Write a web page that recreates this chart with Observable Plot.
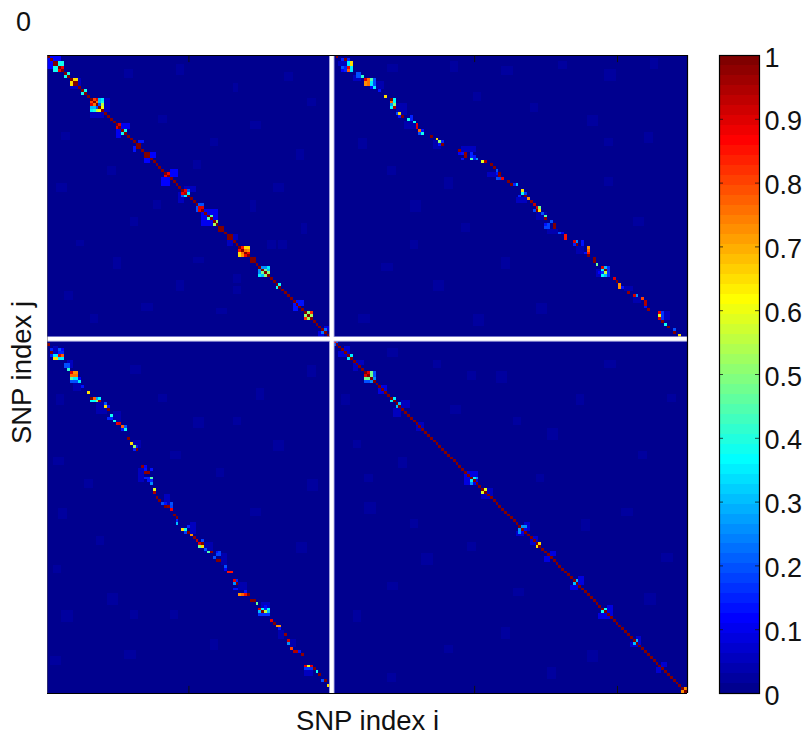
<!DOCTYPE html>
<html>
<head>
<meta charset="utf-8">
<script src="https://cdn.jsdelivr.net/npm/d3@7"></script>
<script src="https://cdn.jsdelivr.net/npm/@observablehq/plot@0.6"></script>
<style>
html,body{margin:0;padding:0;background:#fff;}
#wrap{position:relative;width:807px;height:736px;overflow:hidden;font-family:"Liberation Sans",Arial,sans-serif;}
#wrap svg{position:absolute;top:0;background:transparent;}
#corner{position:absolute;left:16px;top:7px;font-size:27px;line-height:30px;color:#111;}
</style>
</head>
<body>
<div id="wrap"><div id="corner">0</div></div>
<script>
const snpCount = 224;
const gapIndex = 100;
const xTicks = [50, 100, 150, 200];
const barTicks = [0, 0.1, 0.2, 0.3, 0.4, 0.5, 0.6, 0.7, 0.8, 0.9, 1];
const xTitle = "SNP index i";
const yTitle = "SNP index j";

// runs of the main diagonal that read as r2 = 1
const diagonalRuns = [[1, 99], [101, 224]];

// square LD blocks on the diagonal: [first index, rows]
const ldBlocks = [
  [3, [[1,1,.38,.38],[1,1,.38,.38],[.38,.38,1,.88],[.38,.38,.88,1]]],
  [7, [[1,.38],[.38,1]]],
  [9, [[1,.65,.65],[.65,1,1],[.65,1,1]]],
  [13, [[1,.38],[.38,1]]],
  [16, [[1,.8,.9,.3,.35],[.8,1,.75,.3,.4],[.9,.75,1,.2,.55],[.3,.3,.2,1,.6],[.35,.4,.55,.6,1]]],
  [25, [[1,.9],[.9,1]]],
  [27, [[1,.38],[.38,1]]],
  [32, [[1,1],[1,1]]],
  [35, [[1,1],[1,1]]],
  [42, [[1,.88],[.88,1]]],
  [48, [[1,.88,.2],[.88,.95,.35],[.2,.35,1]]],
  [53, [[1,.2,.2],[.2,.9,.9],[.2,.9,1]]],
  [57, [[1,.45],[.45,1]]],
  [59, [[1,.52],[.52,1]]],
  [61, [[1,1],[1,1]]],
  [64, [[1,1],[1,1]]],
  [68, [[1,.85,.65,.65],[.85,1,.75,.72],[.65,.75,1,.88],[.65,.72,.88,1]]],
  [72, [[1,1],[1,1]]],
  [75, [[1,.25,.25,.35],[.25,1,.48,.3],[.25,.48,1,.5],[.35,.3,.5,1]]],
  [81, [[1,.38],[.38,1]]],
  [91, [[1,.5,.82],[.5,1,.52],[.82,.52,1]]],
  [97, [[1,.22],[.22,1]]],
  [101, [[.85,.2],[.2,1]]],
  [106, [[1,.35],[.35,1]]],
  [112, [[1,.9,.47,.2],[.9,1,.47,.2],[.47,.47,1,.25],[.2,.2,.25,1]]],
  [121, [[1,.35],[.35,1]]],
  [123, [[1,.3],[.3,1]]],
  [149, [[1,.35,.25],[.35,1,.1],[.25,.1,1]]],
  [153, [[1,.58],[.58,1]]],
  [166, [[1,.25,.25],[.25,1,.1],[.25,.1,1]]],
  [172, [[1,.65],[.65,1]]],
  [185, [[1,.3],[.3,1]]],
  [195, [[1,.38],[.38,1]]],
  [206, [[1,.3],[.3,1]]],
  [223, [[1,.72],[.72,1]]]
];

// the cross-chromosome ridge: [i, j, r2]
const ridgeCells = [
  [102,1,.98],[105,2,1],[104,2,.15],[106,2,.15],
  [106,3,.35],[107,3,.65],[106,4,.35],[107,4,.65],
  [104,5,.2],[105,5,.15],[106,5,.88],[107,5,.35],
  [104,6,.12],[105,6,.15],[106,6,.78],[107,6,.35],
  [109,7,.2],[110,7,.2],[110,8,.2],[109,8,.2],[111,8,.42],
  [112,9,.9],[113,9,.75],[114,9,.45],[115,9,.2],
  [112,10,.72],[113,10,.75],[114,10,.35],[115,10,.2],
  [112,11,.72],[113,11,.75],[114,11,.35],[115,11,.2],
  [114,12,.12],[115,12,.35],[117,13,.13],[119,15,.65],
  [121,16,1],[122,16,.36],[121,17,.78],[122,17,.36],
  [121,18,.28],[122,18,.5],[121,19,.36],[122,19,.95],
  [123,21,.2],[124,21,.65],[124,22,.13],[125,22,1],
  [127,23,.38],[128,22,.15],[128,23,.15],[129,24,.38],
  [130,25,.88],[130,26,.9],[131,27,.78],[132,27,.13],[131,28,.2],[132,28,.38],
  [135,29,1],[137,30,.65],[138,31,.5],[139,31,.15],[138,32,.13],[139,32,1],
  [145,34,.98],[145,35,.12],[146,35,.13],[147,35,.98],[147,36,.98],[149,35,.15],[149,36,.15],
  [146,37,.13],[149,37,.45],[150,37,.15],[151,37,.25],[150,36,.13],
  [153,38,.58],[154,38,.95],[156,39,1],[157,40,1],[158,41,.2],[158,42,.13],
  [159,42,1],[159,43,.97],[158,44,.2],[159,44,.18],[160,44,.88],[162,45,1],[163,46,1],
  [164,46,.15],[165,46,.3],[167,48,.65],[167,49,.38],[168,49,.18],
  [166,50,.15],[168,50,1],[169,51,.72],[170,52,.97],[171,53,.93],
  [172,54,.9],[173,54,.47],[171,55,.18],[172,55,1],[173,55,.65],
  [174,56,.2],[175,57,.45],[175,58,.97],[177,59,.2],
  [175,60,.13],[176,60,.18],[178,60,1],[175,61,.18],[176,61,.18],[178,61,1],
  [180,63,.2],[181,63,.12],[182,64,.85],[182,65,.85],
  [185,66,.9],[186,66,.25],[185,67,.15],[186,67,1],[188,66,.13],[188,67,.13],
  [190,68,.72],[190,69,.78],[189,70,.14],[190,70,.85],[190,71,1],
  [192,72,1],[192,73,1],[193,74,.47],
  [195,75,.9],[196,75,.3],[197,75,.17],[195,76,.36],[196,76,1],[197,76,.17],
  [194,77,.12],[195,77,.17],[196,77,.55],[197,77,.17],[195,78,.36],[196,78,.3],[197,78,.17],
  [199,79,.9],[200,80,1],[201,81,.72],[201,82,.72],[202,82,.14],
  [204,84,.97],[206,85,.92],[207,85,.25],[209,86,.8],[210,87,.95],[210,88,.95],[210,89,.14],[211,90,.97],
  [215,91,.88],[216,91,.16],[215,92,.58],[216,92,.16],[215,93,.9],[216,93,.16],
  [216,94,1],[217,95,.38],[218,96,1],[220,97,.2],[220,98,1],[222,99,.65]
];

// soft clouds around the hot cells: [i1, i2, j1, j2, r2]
const clouds = [
  [2,5,1,2,.11],[11,12,9,11,.06],[21,22,16,20,.05],[27,29,25,26,.1],[33,34,31,31,.13],[37,38,35,36,.12],
  [44,46,41,43,.11],[49,52,47,48,.06],[56,60,55,58,.1],[66,67,64,65,.06],[88,90,87,88,.14],[98,99,96,97,.09],
  [103,105,3,4,.06],[108,110,8,9,.05],[116,118,10,12,.04],[123,126,18,21,.04],[126,129,24,26,.04],
  [136,138,31,33,.04],[146,150,33,34,.06],[155,158,42,43,.05],[165,168,51,52,.05],[172,175,56,58,.04],
  [176,179,62,63,.04],[186,188,68,70,.04],[193,194,76,78,.05],[203,205,82,83,.04],[206,208,86,87,.04],[216,218,91,93,.05],
  [103,105,105,106,.07],[109,111,108,109,.05],[118,119,117,118,.08],[125,127,122,124,.06],[131,132,130,131,.05],
  [147,148,148,151,.08],[155,156,153,155,.06],[168,169,165,167,.07],[171,172,170,171,.07],[177,178,175,176,.09],
  [187,188,184,186,.08],[197,198,194,197,.08],[207,208,205,207,.07],[216,217,214,215,.07]
];

// faint background mottling: [i1, i2, j1, j2]
const mottling = [
  [28,30,6,8],[46,48,4,7],[66,67,11,13],[84,86,7,9],[92,94,16,18],[40,42,22,24],[72,75,24,26],[58,60,30,32],
  [88,90,34,37],[52,54,38,40],[80,83,46,48],[72,73,52,55],[90,91,60,63],[78,80,66,68],[66,68,82,84],
  [120,123,4,6],[142,144,3,6],[160,163,5,7],[180,182,3,5],[196,199,6,9],[212,214,2,5],[150,152,14,16],
  [170,172,18,20],[190,193,22,25],[210,212,28,31],[140,142,44,47],[120,122,40,42],[128,131,52,55],
  [146,148,60,62],[110,112,30,33],[196,198,44,46],[206,209,58,60],[118,121,74,76],[136,139,80,83],
  [160,162,72,75],[172,175,88,91],[150,153,92,95],[110,113,92,94],[128,130,66,68],[196,198,30,32],
  [136,138,108,110],[158,161,112,115],[186,188,120,123],[208,210,140,142],[176,179,132,135],
  [216,219,176,178],[202,205,160,162],[142,145,124,126],[196,199,108,110],[218,220,120,122],
  [120,123,104,106],[172,174,148,150],[188,190,164,167],[210,213,190,193],[164,166,128,130],[148,150,112,114]
];

const jet64 = d3.range(64).map(i => {
  const v = (i + 1) / 64 * 4;
  const c = d => Math.round(255 * Math.max(0, Math.min(1, Math.min(v - d + 1.5, d + 1.5 - v) )));
  return `rgb(${c(3)},${c(2)},${c(1)})`;
});
const levelThresholds = d3.range(1, 64).map(i => i / 64);
const colorScale = {type: "threshold", domain: levelThresholds, range: jet64};

// assemble a symmetric matrix of the cells that differ from the background
const matrix = new Map();
const put = (i, j, v) => { matrix.set(i + "," + j, {i, j, v}); matrix.set(j + "," + i, {i: j, j: i, v}); };
for (const [a, b, c, d] of mottling) for (let i = a; i <= b; i++) for (let j = c; j <= d; j++) put(i, j, 0.03);
for (const [a, b, c, d, v] of clouds) for (let i = a; i <= b; i++) for (let j = c; j <= d; j++) put(i, j, v);
for (const [a, b] of diagonalRuns) for (let i = a; i <= b; i++) put(i, i, 1);
for (const [start, rows] of ldBlocks) rows.forEach((row, r) => row.forEach((v, c) => { if (c >= r) put(start + c, start + r, v); }));
for (const [i, j, v] of ridgeCells) put(i, j, v);
const cells = [...matrix.values()].filter(d => d.i !== gapIndex && d.j !== gapIndex);
const background = [{v: 0.005}];

const main = Plot.plot({
  width: 807, height: 736,
  marginLeft: 47, marginRight: 120, marginTop: 55, marginBottom: 43,
  style: {fontFamily: '"Liberation Sans",Arial,sans-serif', background: "transparent"},
  x: {domain: [0.5, snpCount + 0.5], axis: null},
  y: {domain: [0.5, snpCount + 0.5], axis: null, reverse: true},
  color: colorScale,
  marks: [
    Plot.rect(background, {x1: 0.5, x2: snpCount + 0.5, y1: 0.5, y2: snpCount + 0.5, fill: "v"}),
    Plot.rect(cells, {x1: d => d.i - 0.5, x2: d => d.i + 0.5, y1: d => d.j - 0.5, y2: d => d.j + 0.5, fill: "v", shapeRendering: "crispEdges"}),
    Plot.ruleX([gapIndex], {stroke: "#9a9ad8", strokeWidth: 5.5}),
    Plot.ruleY([gapIndex], {stroke: "#9a9ad8", strokeWidth: 5.5}),
    Plot.ruleX([gapIndex], {stroke: "#fff", strokeWidth: 3.8}),
    Plot.ruleY([gapIndex], {stroke: "#fff", strokeWidth: 3.8}),
    Plot.ruleX(xTicks.filter(d => d !== gapIndex), {y1: 0.5, y2: 3, stroke: "#111", strokeWidth: 1}),
    Plot.ruleX(xTicks.filter(d => d !== gapIndex), {y1: snpCount + 0.5, y2: snpCount - 2, stroke: "#111", strokeWidth: 1}),
    Plot.ruleY([0.5, snpCount + 0.5], {stroke: "#000", strokeWidth: 1.2}),
    Plot.ruleX([snpCount + 0.5], {stroke: "#000", strokeWidth: 1.2}),
    Plot.ruleX([0.5], {stroke: "#555", strokeWidth: 1, strokeOpacity: 0.5}),
    Plot.text([xTitle], {frameAnchor: "bottom", dy: 36, fontSize: 27.5, fill: "#111", textAnchor: "middle"}),
    Plot.text([yTitle], {frameAnchor: "left", dx: -25, dy: -2, rotate: -90, fontSize: 27.5, fill: "#111", textAnchor: "middle"})
  ]
});
main.style.left = "0px";

const barLevels = jet64.map((c, i) => ({lo: i / 64, hi: (i + 1) / 64, mid: (i + 0.5) / 64}));
const bar = Plot.plot({
  width: 107, height: 736,
  marginLeft: 19, marginRight: 48, marginTop: 55, marginBottom: 43,
  style: {fontFamily: '"Liberation Sans",Arial,sans-serif', background: "transparent", overflow: "visible"},
  x: {domain: [0, 1], axis: null},
  y: {domain: [0, 1], axis: null},
  color: colorScale,
  marks: [
    Plot.rect(barLevels, {x1: 0, x2: 1, y1: "lo", y2: "hi", fill: "mid", shapeRendering: "crispEdges"}),
    Plot.ruleY(barTicks.slice(1, -1), {x1: 0, x2: 0.1, stroke: "#111", strokeOpacity: 0.75}),
    Plot.ruleY(barTicks.slice(1, -1), {x1: 0.9, x2: 1, stroke: "#111", strokeOpacity: 0.75}),
    Plot.frame({stroke: "#000", strokeWidth: 1.2}),
    Plot.axisY(barTicks, {anchor: "right", tickSize: 0, tickPadding: 5, dy: 2.5, fontSize: 27, label: null, color: "#111", tickFormat: d => String(d)})
  ]
});
bar.style.left = "700px";

const wrap = document.getElementById("wrap");
wrap.appendChild(main);
wrap.appendChild(bar);
</script>
</body>
</html>
